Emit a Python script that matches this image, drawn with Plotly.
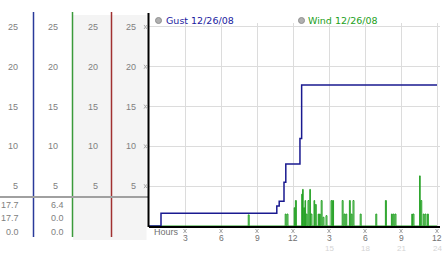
import plotly.graph_objects as go

W, H = 442, 253

# ---------------- data ----------------
gust_hours = [0, 1.0, 10.65, 10.85, 11.25, 11.4, 12.58, 12.72, 24]
gust_speeds = [0, 1.6, 2.5, 3.1, 5.5, 7.8, 11.0, 17.7, 17.7]

wind_hours = [8.27, 11.35, 11.5, 12.1, 12.2, 12.73, 12.8, 12.9, 13.0, 13.1, 13.25, 13.4,
              13.5, 13.75, 13.86, 14.1, 14.2, 14.35, 14.5, 14.75, 15.17, 15.3, 16.1,
              16.25, 16.4, 16.7, 16.85, 17.0, 17.6, 18.9, 19.7, 20.2, 20.35, 20.5,
              21.9, 22.0, 22.55, 22.65, 22.85, 23.0, 23.2]
wind_speeds = [1.4, 1.5, 1.5, 2.3, 3.2, 4.0, 4.6, 2.3, 3.2, 1.5, 3.2, 4.6,
               1.5, 3.2, 2.7, 1.5, 1.5, 3.2, 1.1, 1.3, 3.2, 3.2, 3.2,
               1.5, 1.5, 3.2, 1.5, 3.2, 1.5, 1.5, 3.2, 1.5, 1.5, 1.5,
               1.5, 1.5, 6.3, 3.2, 1.5, 1.5, 1.5]

y_ticks = [25, 20, 15, 10, 5]
x_tick_hours = [3, 6, 9, 12, 15, 18, 21, 24]
x_tick_labels = ["3", "6", "9", "12", "3", "6", "9", "12"]
x_sub_hours = [15, 18, 21, 24]
x_sub_labels = ["15", "18", "21", "24"]

legend_names = ["Gust 12/26/08", "Wind 12/26/08"]
gust_stats = ["17.7", "17.7", "0.0"]
wind_stats = ["6.4", "0.0", "0.0"]

# ------------- build wind series (zero between readings) -------------
wx, wy = [0.0], [0.0]
for i, (t, v) in enumerate(zip(wind_hours, wind_speeds)):
    wx.append(t)
    wy.append(v)
    nxt = wind_hours[i + 1] if i + 1 < len(wind_hours) else 24.0
    wx.append(t + min(0.08, (nxt - t) / 2))
    wy.append(0.0)
wx.append(24.0)
wy.append(0.0)


def px(x):
    return x / W


def py(y):
    return 1 - y / H


LAB = dict(family="Liberation Sans, Arial, sans-serif", size=9, color="#808080")
GLYC = "#a8a8a8"

fig = go.Figure()
fig.add_trace(go.Scatter(x=wx, y=wy, mode="lines", line=dict(color="#22a022", width=1, shape="hv"),
                         hoverinfo="skip", showlegend=False))
fig.add_trace(go.Scatter(x=gust_hours, y=gust_speeds, mode="lines",
                         line=dict(color="#1a1a90", width=1.5, shape="hv"),
                         hoverinfo="skip", showlegend=False))

shapes = []
# grey background for columns 3-4
shapes.append(dict(type="rect", xref="paper", yref="paper", x0=px(73), x1=px(146.5), y0=py(240), y1=py(15),
                   fillcolor="#f4f4f4", line=dict(width=0), layer="below"))
# coloured column lines
for xx, col in [(33.5, "#2a3a9a"), (72.5, "#3a9a3a"), (111.5, "#a03030")]:
    shapes.append(dict(type="line", xref="paper", yref="paper", x0=px(xx), x1=px(xx), y0=py(237), y1=py(12),
                       line=dict(color=col, width=1.5)))
# separator line
shapes.append(dict(type="line", xref="paper", yref="paper", x0=0, x1=px(148), y0=py(197), y1=py(197),
                   line=dict(color="#a0a0a0", width=2)))
# main left axis (black)
shapes.append(dict(type="line", xref="paper", yref="paper", x0=px(148.5), x1=px(148.5), y0=py(227), y1=py(13),
                   line=dict(color="black", width=2)))


def glyph_y(v):
    # tiny tick mark at the right of column 4, anchored on the y value
    for dx0, dy0, dx1, dy1 in [(-1.5, -2, 1.5, 2), (-1.5, 2, 1.5, -2)]:
        shapes.append(dict(type="line", xref="paper", yref="y", ysizemode="pixel", yanchor=v,
                           x0=px(145.5 + dx0), x1=px(145.5 + dx1), y0=dy0, y1=dy1,
                           line=dict(color=GLYC, width=1)))


def glyph_x(h):
    for dx0, dy0, dx1, dy1 in [(-1.5, -2, 1.5, 2), (-1.5, 2, 1.5, -2)]:
        shapes.append(dict(type="line", xref="x", yref="paper", xsizemode="pixel", xanchor=h,
                           x0=dx0, x1=dx1, y0=py(231 + dy0), y1=py(231 + dy1),
                           line=dict(color=GLYC, width=1)))


ann = []
# y-axis labels, four columns
for right in [19.5, 60, 99.5, 137.5]:
    for v in y_ticks:
        ann.append(dict(x=px(right), y=v, xref="paper", yref="y", text=str(v), showarrow=False,
                        xanchor="right", yanchor="middle", font=LAB))
for v in y_ticks:
    glyph_y(v)
# stats rows
for i, (g, w) in enumerate(zip(gust_stats, wind_stats)):
    yy = [205, 218.3, 231.7][i]
    ann.append(dict(x=px(21), y=py(yy), xref="paper", yref="paper", text=g, showarrow=False,
                    xanchor="right", yanchor="middle", font=LAB))
    ann.append(dict(x=px(66), y=py(yy), xref="paper", yref="paper", text=w, showarrow=False,
                    xanchor="right", yanchor="middle", font=LAB))
# x-axis labels
ann.append(dict(x=px(152), y=py(232), xref="paper", yref="paper", text="Hours", showarrow=False,
                xanchor="left", yanchor="middle", font=dict(LAB, color="#707070")))
for h, t in zip(x_tick_hours, x_tick_labels):
    glyph_x(h)
    ann.append(dict(x=h, y=py(237.8), xref="x", yref="paper", text=t, showarrow=False,
                    xanchor="center", yanchor="middle", font=dict(LAB, size=8.5, color="#707070")))
for h, t in zip(x_sub_hours, x_sub_labels):
    ann.append(dict(x=h, y=py(248.6), xref="x", yref="paper", text=t, showarrow=False,
                    xanchor="center", yanchor="middle", font=dict(LAB, size=8, color="#d4d4d4")))
# legend
for (cx, tx, name, col) in [(158.5, 164, legend_names[0], "#1a1aa0"), (301.5, 305.5, legend_names[1], "#22a022")]:
    shapes.append(dict(type="circle", xref="paper", yref="paper", x0=px(cx - 3), x1=px(cx + 3),
                       y0=py(20.5 + 3), y1=py(20.5 - 3), fillcolor="#b0b0b0", line=dict(color="#909090", width=1)))
    ann.append(dict(x=px(tx), y=py(20.5), xref="paper", yref="paper", text=name, showarrow=False,
                    xanchor="left", yanchor="middle",
                    font=dict(family="DejaVu Sans, Verdana, sans-serif", size=9.5, color=col)))

fig.update_layout(
    width=W, height=H, margin=dict(l=0, r=0, t=0, b=0),
    paper_bgcolor="white", plot_bgcolor="white",
    shapes=shapes, annotations=ann, showlegend=False,
    xaxis=dict(domain=[px(149), px(440)], range=[0, 24.25], tick0=0, dtick=3, showgrid=True,
               gridcolor="#dcdcdc", gridwidth=1, zeroline=False, showticklabels=False, ticks="",
               showline=True, linecolor="black", linewidth=2, fixedrange=True),
    yaxis=dict(domain=[py(226), py(23)], range=[0, 25.5], tick0=0, dtick=5, showgrid=True,
               gridcolor="#dcdcdc", gridwidth=1, zeroline=False, showticklabels=False, ticks="",
               showline=False, fixedrange=True),
)

fig.write_html("out.html")
